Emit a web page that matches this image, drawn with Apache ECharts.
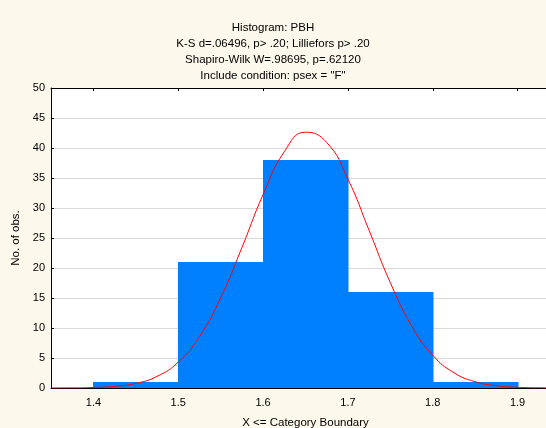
<!DOCTYPE html>
<html><head><meta charset="utf-8">
<script src="https://cdn.jsdelivr.net/npm/echarts@6/dist/echarts.min.js"></script>
<style>html,body{margin:0;padding:0;background:#fdf8ec}#c{width:546px;height:428px}</style>
</head><body><div id="c"></div>
<script>
const titleLines = ['Histogram: PBH', 'K-S d=.06496, p> .20; Lilliefors p> .20', 'Shapiro-Wilk W=.98695, p=.62120', 'Include condition: psex = "F"'];
const xAxisName = 'X <= Category Boundary';
const yAxisName = 'No. of obs.';
const binStarts = [1.4, 1.5, 1.6, 1.7, 1.8];
const binEnds = [1.5, 1.6, 1.7, 1.8, 1.9];
const counts = [1, 21, 38, 16, 1];
const curveX = [1.350, 1.375, 1.400, 1.425, 1.450, 1.475, 1.500, 1.525, 1.550, 1.575, 1.600, 1.625, 1.650, 1.675, 1.700, 1.725, 1.750, 1.775, 1.800, 1.825, 1.850, 1.875, 1.900, 1.925, 1.950];
const curveY = [0.006, 0.023, 0.085, 0.27, 0.77, 1.94, 4.33, 8.58, 15.05, 23.39, 32.23, 39.37, 42.63, 40.92, 34.82, 26.26, 17.55, 10.40, 5.46, 2.55, 1.05, 0.38, 0.12, 0.036, 0.009];
const xTicks = [1.4, 1.5, 1.6, 1.7, 1.8, 1.9];

const font = 'Liberation Sans, Arial, sans-serif';
const chart = echarts.init(document.getElementById('c'));
chart.setOption({
  animation: false,
  backgroundColor: '#fdf8ec',
  title: {
    text: titleLines.join('\n'), left: 'center', top: 15,
    textStyle: {fontFamily: font, fontSize: 11.5, fontWeight: 'normal', color: '#000', lineHeight: 16}
  },
  grid: {left: 51, top: 88, width: 509, height: 300, show: true, backgroundColor: '#fff', borderWidth: 0, outerBoundsMode: 'none', containLabel: false},
  xAxis: [{
    type: 'value', min: 1.35, max: 1.95, position: 'bottom',
    name: xAxisName, nameLocation: 'middle', nameGap: 29,
    nameTextStyle: {fontFamily: font, fontSize: 11.5, color: '#000'},
    axisLine: {show: true, lineStyle: {color: '#000', width: 1}},
    axisTick: {show: true, inside: true, length: 3, customValues: xTicks, lineStyle: {color: '#000'}},
    axisLabel: {customValues: xTicks, fontFamily: font, fontSize: 11, color: '#000', margin: 9, formatter: v => v.toFixed(1)},
    splitLine: {show: false}
  }, {
    type: 'value', min: 1.35, max: 1.95, position: 'top',
    axisLine: {show: true, lineStyle: {color: '#000', width: 1}},
    axisTick: {show: true, inside: true, length: 3, customValues: xTicks, lineStyle: {color: '#000'}},
    axisLabel: {show: false},
    splitLine: {show: false}
  }],
  yAxis: {
    type: 'value', min: 0, max: 50, interval: 5,
    name: yAxisName, nameLocation: 'middle', nameGap: 24, nameRotate: 90,
    nameTextStyle: {fontFamily: font, fontSize: 11.5, color: '#000'},
    axisLine: {show: true, lineStyle: {color: '#000', width: 1}},
    axisTick: {show: true, inside: true, length: 3, lineStyle: {color: '#000'}},
    axisLabel: {fontFamily: font, fontSize: 11, color: '#000', margin: 6},
    splitLine: {show: true, lineStyle: {color: '#d9d9d9', width: 1}}
  },
  series: [{
    type: 'custom', xAxisIndex: 0,
    data: binStarts.map((s, i) => [s, binEnds[i], counts[i]]),
    encode: {x: [0, 1], y: 2},
    renderItem: function (params, api) {
      const p0 = api.coord([api.value(0), api.value(2)]);
      const p1 = api.coord([api.value(1), 0]);
      const x0 = Math.round(p0[0]), x1 = Math.round(p1[0]);
      const y0 = Math.round(p0[1]), y1 = Math.round(p1[1]);
      return {type: 'rect', shape: {x: x0, y: y0, width: x1 - x0 + 0.5, height: y1 - y0}, style: {fill: '#0080ff'}};
    },
    z: 2
  }, {
    type: 'line', xAxisIndex: 0,
    data: curveX.map((x, i) => [x, curveY[i]]),
    smooth: true, showSymbol: false, symbol: 'none',
    lineStyle: {color: '#ff0000', width: 1},
    z: 3
  }]
});
</script></body></html>
